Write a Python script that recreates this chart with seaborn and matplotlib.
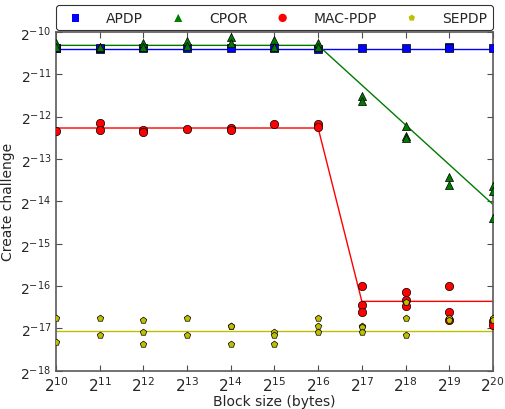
import numpy as np
import pandas as pd
import seaborn as sns
import matplotlib
matplotlib.use('Agg')
import matplotlib.pyplot as plt

# --- data (log2 of seconds) ---
block_exp = [10, 11, 12, 13, 14, 15, 16, 17, 18, 19, 20]

apdp_pts = [[-10.39, -10.38], [-10.40, -10.38], [-10.39], [-10.39], [-10.39],
            [-10.39], [-10.40], [-10.39], [-10.39], [-10.35, -10.38], [-10.39]]
cpor_pts = [[-10.26, -10.36], [-10.37, -10.35], [-10.27, -10.36], [-10.21, -10.33],
            [-10.12, -10.26], [-10.19, -10.37], [-10.27, -10.36], [-11.51, -11.63],
            [-12.22, -12.46, -12.51], [-13.43, -13.62], [-13.64, -13.76, -14.40]]
mac_pts = [[-12.34], [-12.15, -12.32], [-12.32, -12.37], [-12.30], [-12.27, -12.32],
           [-12.18], [-12.18, -12.25], [-16.00, -16.45, -16.62], [-16.15, -16.33, -16.48],
           [-16.00, -16.62, -16.80], [-16.83, -16.92]]
sepdp_pts = [[-16.75, -17.31], [-16.75, -17.16], [-16.81, -17.08, -17.36], [-16.75, -17.16],
             [-16.93, -16.95, -17.36], [-17.08, -17.16, -17.36], [-16.75, -16.93, -17.08],
             [-16.93, -16.97, -17.08], [-16.37, -16.75, -17.16], [-16.75, -16.81], [-16.75, -16.81]]

# fitted model lines
apdp_fit_x = [10, 20]
apdp_fit_y = [-10.40, -10.40]
cpor_fit_x = [10, 16, 20]
cpor_fit_y = [-10.32, -10.32, -14.07]
mac_fit_x = [10, 16, 17, 20]
mac_fit_y = [-12.27, -12.27, -16.36, -16.36]
sepdp_fit_x = [10, 20]
sepdp_fit_y = [-17.05, -17.05]

schemes = ['APDP', 'CPOR', 'MAC-PDP', 'SEPDP']
colors = {'APDP': '#0000ff', 'CPOR': '#007a00', 'MAC-PDP': '#ff0000', 'SEPDP': '#bfbf00'}
markers = {'APDP': 's', 'CPOR': '^', 'MAC-PDP': 'o', 'SEPDP': 'p'}
msize = {'APDP': 30, 'CPOR': 34, 'MAC-PDP': 36, 'SEPDP': 24}


def to_frame(pts):
    rows = []
    for e, vals in zip(block_exp, pts):
        for v in vals:
            rows.append({'x': 2.0 ** e, 'y': 2.0 ** v})
    return pd.DataFrame(rows)


points = {'APDP': apdp_pts, 'CPOR': cpor_pts, 'MAC-PDP': mac_pts, 'SEPDP': sepdp_pts}
fits = {'APDP': (apdp_fit_x, apdp_fit_y), 'CPOR': (cpor_fit_x, cpor_fit_y),
        'MAC-PDP': (mac_fit_x, mac_fit_y), 'SEPDP': (sepdp_fit_x, sepdp_fit_y)}

sns.set_style('ticks')
plt.rcParams['font.family'] = ['DejaVu Sans']
plt.rcParams['mathtext.fontset'] = 'dejavusans'

fig = plt.figure(figsize=(5.05, 4.10), dpi=100)
ax = fig.add_axes([0.111, 0.093, 0.865, 0.827])

for name in schemes:
    fx, fy = fits[name]
    fdf = pd.DataFrame({'x': [2.0 ** v for v in fx], 'y': [2.0 ** v for v in fy]})
    sns.lineplot(data=fdf, x='x', y='y', ax=ax, color=colors[name], linewidth=1.0,
                 sort=False, estimator=None, zorder=2)

for name in schemes:
    df = to_frame(points[name])
    sns.scatterplot(data=df, x='x', y='y', ax=ax, color=colors[name], marker=markers[name],
                    s=msize[name], edgecolor='black', linewidth=0.5, label=name, zorder=3)

ax.set_xscale('log', base=2)
ax.set_yscale('log', base=2)
ax.set_xlim(2 ** 10, 2 ** 20)
ax.set_ylim(2 ** -18, 2 ** -10)
ax.set_xticks([2.0 ** e for e in block_exp])
ax.set_xticklabels([r'$2^{%d}$' % e for e in block_exp], fontsize=11)
yt = list(range(-18, -9))
ax.set_yticks([2.0 ** e for e in yt])
ax.set_yticklabels([r'$2^{%d}$' % e for e in yt], fontsize=10)
ax.minorticks_off()
ax.tick_params(direction='in', top=True, right=True, length=4, width=0.8, color='0.3')
ax.tick_params(axis='x', pad=3.5)
for sp in ax.spines.values():
    sp.set_color('0.35')
    sp.set_linewidth(1.2)

ax.set_xlabel('Block size (bytes)', fontsize=10, labelpad=0)
ax.set_ylabel('Create challenge', fontsize=10)

leg = ax.legend(loc='lower left', bbox_to_anchor=(0.0, 1.005, 1.0, 0.075), mode='expand',
                ncol=4, fontsize=10, frameon=True, fancybox=True, edgecolor='black',
                borderaxespad=0.0, handletextpad=1.2, scatterpoints=1)
leg.get_frame().set_linewidth(0.8)
for h in leg.legend_handles:
    h.set_edgecolor('none')

fig.savefig('out.png', dpi=100)
